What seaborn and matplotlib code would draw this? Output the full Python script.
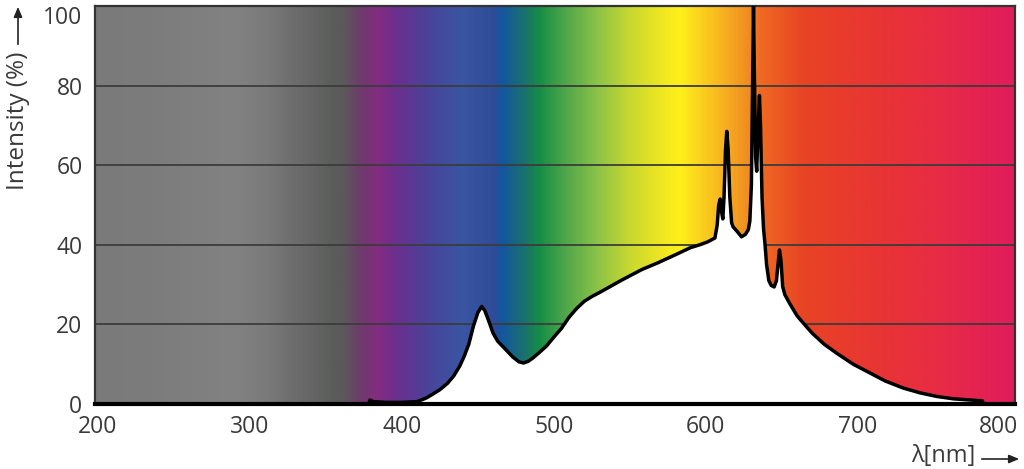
import numpy as np
import pandas as pd
import matplotlib
matplotlib.use("Agg")
import matplotlib.pyplot as plt
import seaborn as sns
from matplotlib.colors import LinearSegmentedColormap, to_rgb
from matplotlib.transforms import ScaledTranslation

# ---- data ----
wavelength = [378, 379, 381, 390, 400, 410, 416, 420, 425, 430, 434, 438, 441, 444, 447,
              450, 452.5, 454.5, 457, 460, 463, 467, 473, 477, 480, 483, 486, 490, 495,
              500, 505, 510, 515, 520, 525, 530, 545, 558, 568, 580, 590, 596, 601, 606,
              607.5, 608.5, 609.5, 610.5, 611.2, 612, 613, 613.8, 614.7, 615.8, 617, 618,
              621, 623.5, 626, 628, 629, 630, 630.8, 631.4, 631.9, 632.8, 633.5, 634.3,
              635.3, 636, 637, 638, 639, 640, 641.5, 643, 645, 646.5, 647.5, 648.5, 649.5,
              650.6, 652, 655, 660, 664, 670, 678, 686, 697, 708, 718, 730, 741, 752, 763,
              774, 782, 783]
intensity = [0.0, 1.0, 0.6, 0.4, 0.4, 0.6, 1.5, 2.4, 3.6, 5.2, 7.0, 9.5, 12.0, 15.0, 19.5,
             23.0, 24.5, 23.5, 21.0, 17.8, 15.8, 14.2, 11.8, 10.6, 10.3, 10.7, 11.5, 12.8, 14.5,
             16.8, 19.0, 21.8, 24.0, 25.8, 27.0, 28.0, 31.2, 33.8, 35.4, 37.5, 39.3, 40.0, 40.7, 41.7,
             45.0, 50.0, 51.5, 48.0, 46.5, 52.0, 64.0, 68.5, 64.0, 52.0, 45.5, 44.5,
             43.2, 42.0, 42.6, 43.8, 46.0, 55.0, 80.0, 100.0, 85.0, 62.0, 58.5, 68.0,
             77.5, 70.0, 52.0, 44.0, 40.0, 35.0, 31.0, 29.8, 29.4, 31.0, 35.0, 38.7, 36.0,
             29.5, 27.5, 25.4, 22.2, 20.4, 17.8, 15.0, 12.8, 10.0, 7.8, 5.8, 4.0, 2.8, 1.9, 1.3,
             1.0, 0.8, 0.0]
x_ticks = [200, 300, 400, 500, 600, 700, 800]
y_ticks = [0, 20, 40, 60, 80, 100]

# background spectrum colour stops (wavelength, colour)
bg_wavelength = [198, 235, 290, 311, 333, 355, 361, 372, 384, 397, 418, 440, 460, 466,
                 480, 491, 506, 528, 550, 572, 583, 609, 629, 636, 664, 708, 752, 803.5]
bg_colors = ["#7a7a7a", "#7c7c7c", "#828282", "#7a7a7a", "#6a6a6a", "#5a5c5a", "#5a5a5a",
             "#6e3c6a", "#842c80", "#6a3090", "#48449a", "#3a56a2", "#2f4c98", "#1357a0",
             "#1a7070", "#168e44", "#4aa44a", "#8ac248", "#c8d830", "#f0e820", "#fff01a",
             "#f8b820", "#f08a20", "#f06a22", "#e84424", "#e83632", "#e82c44", "#e01c5c"]

df = pd.DataFrame({"wavelength": wavelength, "intensity": intensity})

sns.set_theme(style="white")
plt.rcParams["font.family"] = ["Open Sans", "DejaVu Sans"]
text_col = "#3a3a3a"

fig = plt.figure(figsize=(10.24, 4.69), dpi=100)
ax = fig.add_axes([95 / 1024, 65 / 469, 920 / 1024, 398 / 469])

xmin, xmax = 198, 803.5
ax.set_xlim(xmin, xmax)
ax.set_ylim(0, 100)

# background gradient
span = bg_wavelength[-1] - bg_wavelength[0]
stops = [((w - bg_wavelength[0]) / span, to_rgb(c)) for w, c in zip(bg_wavelength, bg_colors)]
cmap = LinearSegmentedColormap.from_list("spec", stops, N=1024)
grad = np.linspace(0, 1, 1200)[None, :]
ax.imshow(grad, cmap=cmap, aspect="auto", extent=[bg_wavelength[0], bg_wavelength[-1], 0, 100],
          interpolation="bilinear", zorder=0)

ax.set_axisbelow(True)
ax.yaxis.grid(True, color="#3c3c3c", lw=1.3, zorder=0.5)
ax.xaxis.grid(False)
for l in ax.get_ygridlines():
    l.set_zorder(0.5)

ax.fill_between(df["wavelength"], df["intensity"], 0, color="white", zorder=1, lw=0)
sns.lineplot(data=df, x="wavelength", y="intensity", color="black", lw=2.5, ax=ax,
             zorder=3, sort=True, estimator=None)

ax.set_xticks(x_ticks)
ax.set_yticks(y_ticks)
ax.set_xticklabels([str(t) for t in x_ticks])
ax.set_yticklabels([str(t) for t in y_ticks])
ax.tick_params(axis="both", length=0, labelsize=16.5, labelcolor=text_col)
ax.tick_params(axis="x", pad=8)
ax.tick_params(axis="y", pad=9)
last = ax.get_xticklabels()[-1]
last.set_transform(last.get_transform() + ScaledTranslation(-11 / 100, 0, fig.dpi_scale_trans))
top = ax.get_yticklabels()[-1]
top.set_transform(top.get_transform() + ScaledTranslation(0, -9 / 100, fig.dpi_scale_trans))

ax.set_xlabel("")
ax.set_ylabel("")
for side in ["top", "right", "left"]:
    ax.spines[side].set_color("#333333")
    ax.spines[side].set_linewidth(1.6)
ax.spines["bottom"].set_color("black")
ax.spines["bottom"].set_linewidth(3)
ax.spines["bottom"].set_zorder(4)

# axis titles with arrows
fig.text(18 / 1024, 1 - 121 / 469, "Intensity (%)", rotation=90, ha="center", va="center",
         fontsize=17.5, color=text_col)
fig.add_artist(matplotlib.patches.FancyArrowPatch((18 / 1024, 1 - 47 / 469), (18 / 1024, 1 - 4 / 469),
               transform=fig.transFigure, arrowstyle="-|>,head_length=6,head_width=2.5",
               color="#222222", lw=1.2, mutation_scale=1))
fig.text(943 / 1024, 1 - 456 / 469, "λ[nm]", ha="center", va="center", fontsize=17, color=text_col)
fig.add_artist(matplotlib.patches.FancyArrowPatch((979 / 1024, 1 - 459 / 469), (1022 / 1024, 1 - 459 / 469),
               transform=fig.transFigure, arrowstyle="-|>,head_length=6,head_width=2.5",
               color="#222222", lw=1.2, mutation_scale=1))

fig.savefig("out.png", dpi=100)
